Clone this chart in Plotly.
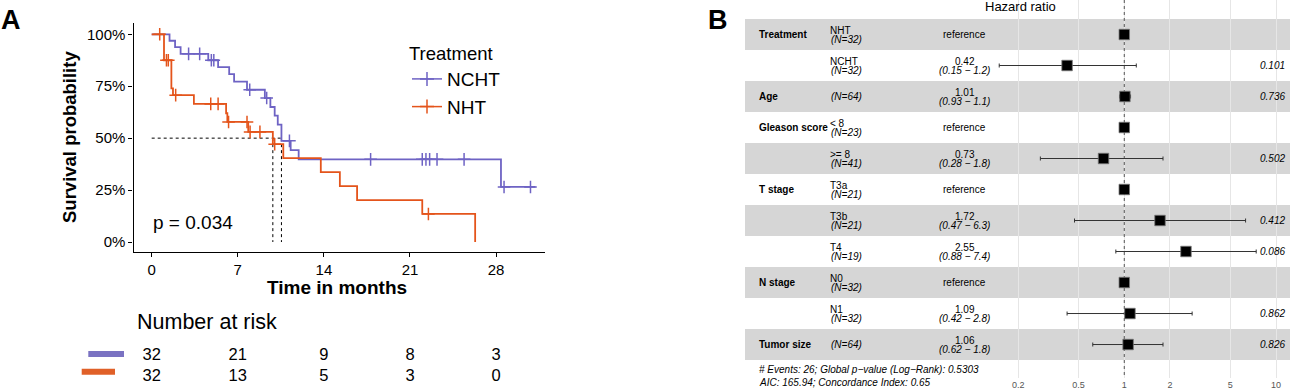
import plotly.graph_objects as go

W, H = 1294, 391
def px(x): return x / W
def py(y): return 1 - y / H

FONT = "Liberation Sans, Arial, Helvetica, sans-serif"
BLUE = "#6E63C4"
ORANGE = "#E4541B"
BLUE_BAR = "#7A72C2"
ORANGE_BAR = "#E06028"

# ---------------- Panel A: Kaplan-Meier data ----------------
nc_t = [0, 1.45, 1.9, 2.35, 4.6, 5.4, 6.3, 6.7, 7.75, 9.2, 9.65, 10.0, 10.25, 10.55, 11.3, 11.95, 28.4, 31.2]
nc_s = [100, 96.9, 93.8, 90.6, 87.5, 84.2, 80.8, 77.2, 73.3, 69.3, 65.0, 60.8, 56.5, 48.7, 44.2, 39.8, 26.5, 26.5]
nc_cens_t = [3.0, 3.9, 4.85, 5.05, 7.97, 9.35, 11.2, 17.8, 22.0, 22.3, 22.6, 23.2, 25.4, 28.65, 30.8]
nc_cens_s = [90.6, 90.6, 87.5, 87.5, 73.3, 69.3, 48.7, 39.8, 39.8, 39.8, 39.8, 39.8, 39.8, 26.5, 26.5]

nh_t = [0, 1.0, 1.6, 1.73, 3.43, 6.05, 6.15, 7.85, 9.85, 10.7, 13.75, 15.3, 16.7, 22.0, 26.3]
nh_s = [100, 87.5, 74.0, 70.7, 66.5, 62.0, 57.8, 53.0, 47.1, 40.4, 33.6, 26.9, 20.2, 13.5, 0]
nh_cens_t = [0.65, 1.2, 1.35, 1.95, 4.8, 5.4, 6.25, 7.75, 8.0, 8.8, 10.0, 22.5]
nh_cens_s = [100, 87.5, 87.5, 70.7, 66.5, 66.5, 57.8, 57.8, 53.0, 53.0, 47.1, 13.5]

x_ticks = [0, 7, 14, 21, 28]
y_ticks = [0, 25, 50, 75, 100]
y_ticktext = ["0%", "25%", "50%", "75%", "100%"]

risk_times = [0, 7, 14, 21, 28]
risk_nc = [32, 21, 9, 8, 3]
risk_nh = [32, 13, 5, 3, 0]
p_text = "p = 0.034"

# ---------------- Panel B: forest plot data ----------------
var_names = ["Treatment", "", "Age", "Gleason score", "", "T stage", "", "", "N stage", "", "Tumor size"]
levels = ["NHT", "NCHT", "", "< 8", ">= 8", "T3a", "T3b", "T4", "N0", "N1", ""]
n_obs = [32, 32, 64, 23, 41, 21, 21, 19, 32, 32, 64]
hr = [1, 0.42, 1.01, 1, 0.73, 1, 1.72, 2.55, 1, 1.09, 1.06]
ci_lo = [None, 0.15, 0.93, None, 0.28, None, 0.47, 0.88, None, 0.42, 0.62]
ci_hi = [None, 1.2, 1.1, None, 1.8, None, 6.3, 7.4, None, 2.8, 1.8]
pvals = ["", "0.101", "0.736", "", "0.502", "", "0.412", "0.086", "", "0.862", "0.826"]
hr_ticks = [0.2, 0.5, 1, 2, 5, 10]
footer1 = "# Events: 26; Global p\u2212value (Log\u2212Rank): 0.5303"
footer2 = "AIC: 165.94; Concordance Index: 0.65"

fig = go.Figure()

# ---- KM curves ----
def median_time(t, s):
    for ti, si in zip(t, s):
        if si <= 50:
            return ti
    return None

meds = [median_time(nc_t, nc_s), median_time(nh_t, nh_s)]
mmax = max(meds)
fig.add_trace(go.Scatter(x=[0, mmax], y=[50, 50], mode="lines",
                         line=dict(color="black", width=1, dash="3px,3px"),
                         showlegend=False, hoverinfo="skip"))
for m in meds:
    fig.add_trace(go.Scatter(x=[m, m], y=[50, 0], mode="lines",
                             line=dict(color="black", width=1, dash="3px,3px"),
                             showlegend=False, hoverinfo="skip"))

fig.add_trace(go.Scatter(x=nc_t, y=nc_s, mode="lines",
                         line=dict(color=BLUE, width=1.8, shape="hv"), showlegend=False))
fig.add_trace(go.Scatter(x=nc_cens_t, y=nc_cens_s, mode="markers",
                         marker=dict(symbol="cross-thin", size=9, line=dict(color=BLUE, width=1.5)),
                         showlegend=False))
fig.add_trace(go.Scatter(x=nh_t, y=nh_s, mode="lines",
                         line=dict(color=ORANGE, width=1.8, shape="hv"), showlegend=False))
fig.add_trace(go.Scatter(x=nh_cens_t, y=nh_cens_s, mode="markers",
                         marker=dict(symbol="cross-thin", size=9, line=dict(color=ORANGE, width=1.5)),
                         showlegend=False))

# legend entries
for name, col in [("NCHT", BLUE), ("NHT", ORANGE)]:
    fig.add_trace(go.Scatter(x=[None], y=[None], mode="lines+markers", name=name,
                             line=dict(color=col, width=1.5),
                             marker=dict(symbol="cross-thin", size=10, line=dict(color=col, width=1.5))))

# risk table
fig.add_trace(go.Scatter(x=risk_times, y=[1] * len(risk_times), mode="text",
                         text=[str(v) for v in risk_nc], textfont=dict(size=16.5, color="black"),
                         xaxis="x", yaxis="y3", showlegend=False, hoverinfo="skip"))
fig.add_trace(go.Scatter(x=risk_times, y=[0] * len(risk_times), mode="text",
                         text=[str(v) for v in risk_nh], textfont=dict(size=16.5, color="black"),
                         xaxis="x", yaxis="y3", showlegend=False, hoverinfo="skip"))

# ---- Forest plot ----
rows = list(range(len(hr)))
fig.add_trace(go.Scatter(x=[1, 1], y=[-1.113, 11.0], mode="lines",
                         line=dict(color="#555555", width=1, dash="dot"),
                         xaxis="x2", yaxis="y2", showlegend=False, hoverinfo="skip"))
err_plus = [(h - r) if h is not None else 0 for h, r in zip(ci_hi, hr)]
err_minus = [(r - l) if l is not None else 0 for l, r in zip(ci_lo, hr)]
fig.add_trace(go.Scatter(x=hr, y=rows, mode="markers",
                         marker=dict(symbol="square", size=10.5, color="black",
                                     line=dict(color="#777777", width=0.8)),
                         error_x=dict(type="data", symmetric=False, array=err_plus,
                                      arrayminus=err_minus, color="#333333", thickness=1, width=2),
                         xaxis="x2", yaxis="y2", showlegend=False))

shapes = []
for i in rows:
    if i % 2 == 0:
        shapes.append(dict(type="rect", xref="x2 domain", yref="y2", x0=0, x1=1,
                           y0=i - 0.5, y1=i + 0.5, fillcolor="#d6d6d6",
                           line=dict(width=0), layer="below"))
# risk table colour bars
shapes.append(dict(type="line", xref="paper", yref="paper", x0=px(88.3), x1=px(124),
                   y0=py(354), y1=py(354), line=dict(color=BLUE_BAR, width=6)))
shapes.append(dict(type="line", xref="paper", yref="paper", x0=px(81.7), x1=px(115),
                   y0=py(371.7), y1=py(371.7), line=dict(color=ORANGE_BAR, width=6)))

ann = []
def add(text, x, y, size, xanchor="center", xref="paper", yref="paper", yshift=0, angle=0, color="black"):
    ann.append(dict(text=text, x=x, y=y, xref=xref, yref=yref, xanchor=xanchor,
                    yanchor="middle", showarrow=False, yshift=yshift, textangle=angle,
                    font=dict(size=size, color=color, family=FONT)))

# panel A text
add("<b>A</b>", px(11), py(20), 27)
add("<b>B</b>", px(718), py(20), 27)
add("<b>Survival probability</b>", px(70), py(137), 18.5, angle=-90)
add("<b>Time in months</b>", px(336.7), py(287), 19)
add(p_text, 3.35, 9.3, 19, xref="x", yref="y")
add("Number at risk", px(135), py(321.7), 21.5, xanchor="left")

# panel B text
add("Hazard ratio", px(1020), py(7), 13)
for i in rows:
    if var_names[i]:
        add("<b>%s</b>" % var_names[i], px(757), i, 10, xanchor="left", yref="y2")
    ntxt = "<i>(N=%d)</i>" % n_obs[i]
    if levels[i]:
        add(levels[i], px(828), i, 10, xanchor="left", yref="y2", yshift=4)
        add(ntxt, px(829), i, 10, xanchor="left", yref="y2", yshift=-5)
    else:
        add(ntxt, px(829), i, 10, xanchor="left", yref="y2")
    if ci_lo[i] is None:
        add("reference", px(964.7), i, 10, yref="y2")
    else:
        add("%.2f" % hr[i], px(964.7), i, 10, yref="y2", yshift=4)
        add("<i>(%s \u2212 %s)</i>" % (ci_lo[i], ci_hi[i]), px(964.7), i, 10, yref="y2", yshift=-5)
    if pvals[i]:
        add("<i>%s</i>" % pvals[i], px(1287), i, 10, xanchor="right", yref="y2")
add("<i>%s</i>" % footer1, px(757), py(369), 10, xanchor="left")
add("<i>%s</i>" % footer2, px(757), py(382.3), 10, xanchor="left")

axis_common = dict(showline=True, linecolor="black", linewidth=1.2, ticks="outside",
                   ticklen=4, tickwidth=1.2, tickcolor="black",
                   tickfont=dict(size=15, color="black", family=FONT),
                   showgrid=False, zeroline=False)

fig.update_layout(
    width=W, height=H,
    margin=dict(l=0, r=0, t=0, b=0),
    paper_bgcolor="white", plot_bgcolor="white",
    font=dict(family=FONT, color="black"),
    xaxis=dict(domain=[px(133.5), px(545)], range=[-1.48, 31.98], tickvals=x_ticks,
               anchor="y", **axis_common),
    yaxis=dict(domain=[py(252.3), py(23.3)], range=[-4.96, 105.3], tickvals=y_ticks,
               ticktext=y_ticktext, anchor="x", **axis_common),
    yaxis3=dict(domain=[0, 0.15], range=[-0.668, 2.126], visible=False, anchor="x"),
    xaxis2=dict(type="log", domain=[px(745), px(1290)], range=[-2.499, 1.092],
                tickvals=hr_ticks, ticktext=[str(v) for v in hr_ticks],
                showgrid=True, gridcolor="#e6e6e6", gridwidth=1, zeroline=False,
                showline=False, ticks="", tickfont=dict(size=9, color="#555555", family=FONT),
                anchor="y2"),
    yaxis2=dict(domain=[py(378), 1], range=[11.08, -1.113], visible=False, anchor="x2"),
    legend=dict(x=px(407), y=py(36), xanchor="left", yanchor="top",
                title=dict(text="Treatment", font=dict(size=18.5, family=FONT)),
                font=dict(size=19, family=FONT), bgcolor="rgba(0,0,0,0)",
                itemwidth=30, tracegroupgap=0),
    shapes=shapes,
    annotations=ann,
)

fig.write_html("out.html", config={"displayModeBar": False},
               post_script="document.body.style.margin='0px';document.body.style.overflow='hidden';")
